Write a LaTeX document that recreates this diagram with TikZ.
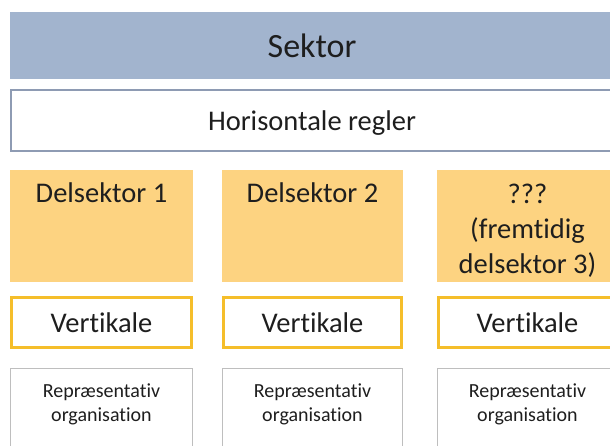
\documentclass[tikz,border=0pt]{standalone}
\usepackage{fontspec}
\setmainfont{Carlito}[Ligatures=NoCommon]
\definecolor{sektorblue}{HTML}{A2B4CE}
\definecolor{horisline}{HTML}{8E9BB3}
\definecolor{delfill}{HTML}{FDD381}
\definecolor{vertline}{HTML}{F5BE2A}
\definecolor{reprline}{HTML}{BEBEBE}
\definecolor{textgray}{HTML}{1E1E1E}
\begin{document}
\begin{tikzpicture}[x=1pt,y=-1pt,
    box/.style={rectangle,inner sep=0pt,outer sep=0pt,anchor=north west,text=textgray},
    sektorbox/.style={box,fill=sektorblue,font=\fontsize{34}{41}\selectfont,text depth=0pt},
    horisbox/.style={box,draw=horisline,line width=2pt,fill=white,font=\fontsize{28.5}{35}\selectfont,text depth=0pt},
    delbox/.style={box,fill=delfill,minimum height=112pt},
    deltext/.style={anchor=base,inner sep=0pt,align=center,text=textgray,font=\fontsize{28.5}{35}\selectfont},
    vertbox/.style={box,draw=vertline,line width=3pt,minimum height=50pt,font=\fontsize{28.5}{35}\selectfont,text depth=0pt},
    reprbox/.style={box,draw=reprline,line width=1.2pt,minimum height=100pt},
    reprtext/.style={anchor=base,inner sep=0pt,align=center,text=textgray,font=\fontsize{20}{24}\selectfont}]
\useasboundingbox (0,0) rectangle (610,446);
\clip (0,0) rectangle (610,446);
\node[sektorbox,minimum width=604pt,minimum height=67pt] (sektor) at (10,12) {Sektor};
\node[horisbox,minimum width=602pt,minimum height=61pt] (horis) at (11,90.5) {Horisontale regler};
\node[delbox,minimum width=183pt] (del1) at (10,170) {};
\node[delbox,minimum width=181pt] (del2) at (222,170) {};
\node[delbox,minimum width=181pt] (del3) at (437,170) {};
\node[deltext] (del1text) at ([yshift=-33pt]del1.north) {Delsektor 1};
\node[deltext] (del2text) at ([yshift=-33pt]del2.north) {Delsektor 2};
\node[deltext] (del3text) at ([yshift=-103pt]del3.north) {???\\(fremtidig\\delsektor 3)};
\node[vertbox,minimum width=180pt] (vert1) at (11.5,297.5) {Vertikale};
\node[vertbox,minimum width=178pt] (vert2) at (223.5,297.5) {Vertikale};
\node[vertbox,minimum width=178pt] (vert3) at (438.5,297.5) {Vertikale};
\node[reprbox,minimum width=182pt] (repr1) at (10.5,368.5) {};
\node[reprbox,minimum width=180pt] (repr2) at (222.5,368.5) {};
\node[reprbox,minimum width=180pt] (repr3) at (437.5,368.5) {};
\node[reprtext] (repr1text) at ([yshift=-53pt]repr1.north) {Repræsentativ\\organisation};
\node[reprtext] (repr2text) at ([yshift=-53pt]repr2.north) {Repræsentativ\\organisation};
\node[reprtext] (repr3text) at ([yshift=-53pt]repr3.north) {Repræsentativ\\organisation};
\end{tikzpicture}
\end{document}
